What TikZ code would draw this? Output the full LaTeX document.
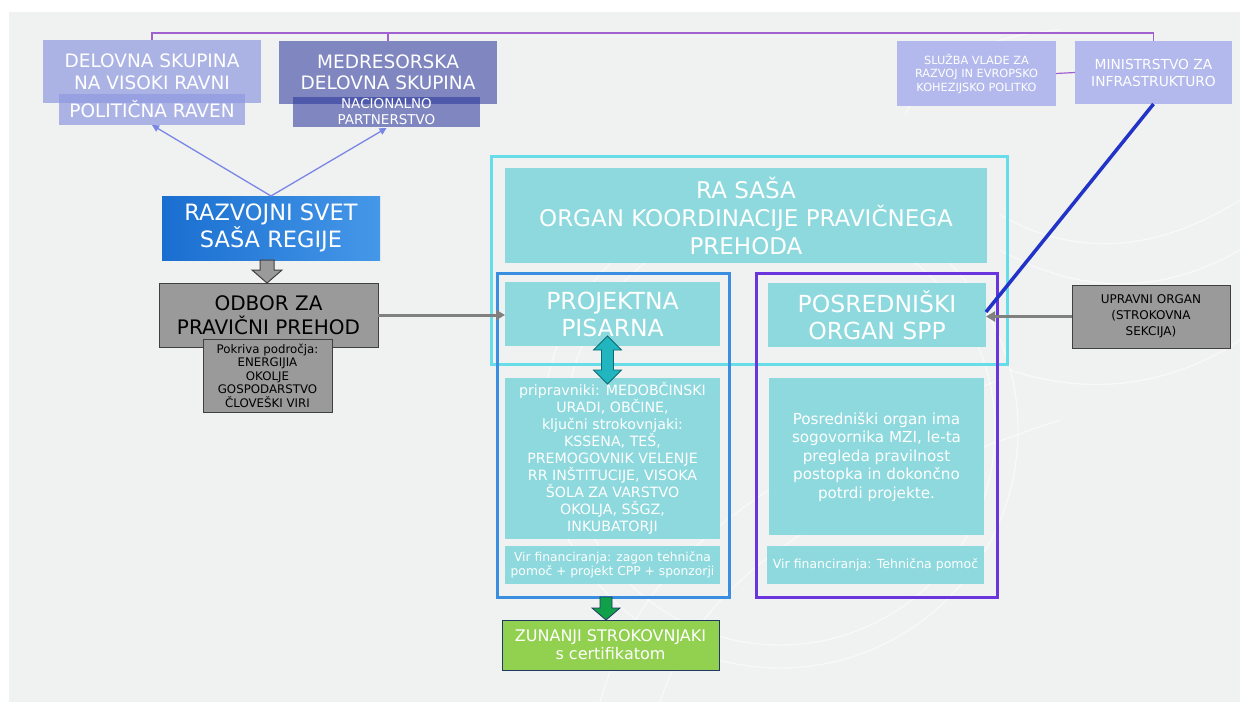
\documentclass[tikz,border=0pt]{standalone}
\usepackage{fontspec}
\setmainfont{DejaVu Sans}
\usetikzlibrary{calc,arrows.meta}
\definecolor{panelbg}{HTML}{F0F1F1}
\definecolor{peri}{HTML}{8F99E0}
\definecolor{medblue}{HTML}{2E3A9E}
\definecolor{lightperi}{HTML}{B3B9EC}
\definecolor{tealfill}{HTML}{8DD9DD}
\definecolor{cyanline}{HTML}{66DDE8}
\definecolor{blueline}{HTML}{3A8EE0}
\definecolor{purpline}{HTML}{6A35DC}
\definecolor{diagblue}{HTML}{2233C8}
\definecolor{grayfill}{HTML}{9A9A9A}
\definecolor{grayline}{HTML}{404040}
\definecolor{grayarrow}{HTML}{808080}
\definecolor{topconn}{HTML}{A060D0}
\definecolor{arrowperi}{HTML}{7A86E6}
\definecolor{zunfill}{HTML}{92D050}
\definecolor{navy}{HTML}{1F3864}
\definecolor{greenarr}{HTML}{10A04A}
\definecolor{tealarr}{HTML}{21B6BF}
\definecolor{tealdark}{HTML}{0E6A70}
\definecolor{razleft}{HTML}{1A6ED0}
\definecolor{razright}{HTML}{4598E8}
\newcommand\myfs[2]{\fontsize{#1}{#2}\selectfont}
\tikzset{
  box/.style={anchor=north west, inner sep=0pt, outer sep=0pt, align=center, text=white},
  frame/.style={anchor=north west, inner sep=0pt, outer sep=0pt, draw, line width=3pt},
  graybox/.style={box, fill=grayfill, draw=grayline, line width=1pt, text=black},
  conn/.style={draw=topconn, line width=1.2pt},
  periarrow/.style={draw=arrowperi, line width=1.3pt, -{Triangle[length=7pt,width=7pt]}},
  grayconn/.style={draw=grayarrow, line width=3pt, -{Triangle[length=9pt,width=10pt]}},
  bgcurve/.style={draw=white, line width=1.3pt, opacity=0.55},
}
\begin{document}
\begin{tikzpicture}[x=1pt,y=-1pt]
\useasboundingbox (0,0) rectangle (1246,706);
\fill[white] (0,0) rectangle (1246,706);
\fill[panelbg] (9,12) rectangle (1240,702);
% decorative background curves
\draw[bgcurve] (780,430) circle (215);
\draw[bgcurve] (780,430) circle (238);
\draw[bgcurve] (600,702) .. controls (640,560) and (760,470) .. (1000,380);
\draw[bgcurve] (660,702) .. controls (700,580) and (820,500) .. (1060,420);
\draw[bgcurve] (1000,215) .. controls (1080,260) and (1160,250) .. (1240,200);
\draw[bgcurve] (1000,250) .. controls (1090,300) and (1170,290) .. (1240,250);
\draw[bgcurve] (1010,370) .. controls (1100,400) and (1180,380) .. (1240,340);
\draw[bgcurve] (905,115) .. controls (930,60) and (990,35) .. (1060,30);

% top left boxes
\node[box, fill=peri, fill opacity=0.7, text opacity=1, minimum width=218pt, minimum height=63pt, font=\myfs{18.5}{22}] (del) at (43,40) {DELOVNA SKUPINA\\NA VISOKI RAVNI};
\node[box, fill=peri, fill opacity=0.7, text opacity=1, minimum width=186pt, minimum height=31pt, font=\myfs{18.5}{22}] (pol) at (59,94) {POLITIČNA RAVEN};
\node[box, fill=medblue, fill opacity=0.58, text opacity=1, minimum width=218pt, minimum height=63pt, font=\myfs{18.5}{21}] (med) at (279,41) {MEDRESORSKA\\DELOVNA SKUPINA};
\node[box, fill=medblue, fill opacity=0.58, text opacity=1, minimum width=187pt, minimum height=30pt, font=\myfs{13.5}{16}] (nac) at (293,97) {NACIONALNO\\PARTNERSTVO};
% top right boxes
\node[box, fill=lightperi, minimum width=159pt, minimum height=65pt, font=\myfs{11.3}{13.5}] (slu) at (897,41) {SLUŽBA VLADE ZA\\RAZVOJ IN EVROPSKO\\KOHEZIJSKO POLITKO};
\node[box, fill=lightperi, minimum width=157pt, minimum height=63pt, font=\myfs{13.8}{17}] (min) at (1075,41) {MINISTRSTVO ZA\\INFRASTRUKTURO};
% top connectors
\draw[conn] (del.north) -- ++(0,-7) -| (min.north);
\draw[conn] (med.north) -- ++(0,-8);
\draw[conn] (slu.east) -- (min.west);

% left column
\node[box, left color=razleft, right color=razright, minimum width=218pt, minimum height=64pt, font=\myfs{22.5}{27}] (raz) at (162,196) {RAZVOJNI SVET\\SAŠA REGIJE};
\draw[periarrow] (raz.north) -- (pol.south);
\draw[periarrow] (raz.north) -- ($(nac.south)+(0,1)$);
\node[graybox, minimum width=219pt, minimum height=64pt, font=\myfs{20}{24}] (odb) at (159,283) {ODBOR ZA\\PRAVIČNI PREHOD};
\node[graybox, minimum width=129pt, minimum height=73pt, font=\myfs{11.8}{13.5}] (pok) at (203,339) {Pokriva področja:\\ENERGIJIA\\OKOLJE\\GOSPODARSTVO\\ČLOVEŠKI VIRI};
\draw[fill=grayfill, draw=grayline, line width=1pt] ($(raz.south)+(-11,0)$) -- ++(14,0) -- ++(0,10) -- ++(8,0) -- ++(-15,13) -- ++(-15,-13) -- ++(8,0) -- cycle;

% central group
\node[frame, draw=cyanline, minimum width=516pt, minimum height=208pt] (outer) at (491,156) {};
\node[box, fill=tealfill, minimum width=482pt, minimum height=95pt, font=\myfs{23}{28}] (ra) at (505,168) {RA SAŠA\\ORGAN KOORDINACIJE PRAVIČNEGA\\PREHODA};
\node[frame, draw=blueline, minimum width=232pt, minimum height=324pt] (pbox) at (497,273) {};
\node[frame, draw=purpline, minimum width=241pt, minimum height=324pt] (sbox) at (756,273) {};
\node[box, fill=tealfill, minimum width=215pt, minimum height=64pt, font=\myfs{23.5}{27}] (proj) at (505,282) {PROJEKTNA\\PISARNA};
\node[box, fill=tealfill, minimum width=215pt, minimum height=161pt, font=\myfs{14.2}{17}] (pri) at (505,378) {pripravniki: MEDOBČINSKI\\URADI, OBČINE,\\ključni strokovnjaki:\\KSSENA, TEŠ,\\PREMOGOVNIK VELENJE\\RR INŠTITUCIJE, VISOKA\\ŠOLA ZA VARSTVO\\OKOLJA, SŠGZ,\\INKUBATORJI};
\node[box, fill=tealfill, minimum width=215pt, minimum height=38pt, font=\myfs{12.3}{14.5}] (vir1) at (505,546) {Vir financiranja: zagon tehnična\\pomoč + projekt CPP + sponzorji};
\node[box, fill=tealfill, minimum width=218pt, minimum height=64pt, font=\myfs{23.5}{27}] (pos) at (768,283) {POSREDNIŠKI\\ORGAN SPP};
\node[box, fill=tealfill, minimum width=215pt, minimum height=157pt, font=\myfs{15.2}{18.5}] (post) at (769,378) {Posredniški organ ima\\sogovornika MZI, le-ta\\pregleda pravilnost\\postopka in dokončno\\potrdi projekte.};
\node[box, fill=tealfill, minimum width=217pt, minimum height=38pt, font=\myfs{12.5}{14.5}] (vir2) at (767,546) {Vir financiranja: Tehnična pomoč};
% double arrow between proj and pri
\draw[fill=tealarr, draw=tealdark, line width=0.8pt] ($(proj.south)+(-5,-10)$) -- ++(14,14) -- ++(-8,0) -- ++(0,20) -- ++(8,0) -- ++(-14,14) -- ++(-14,-14) -- ++(8,0) -- ++(0,-20) -- ++(-8,0) -- cycle;

% right
\node[graybox, minimum width=158pt, minimum height=63pt, font=\myfs{12}{16}] (upr) at (1072,285) {UPRAVNI ORGAN\\(STROKOVNA\\SEKCIJA)};
\draw[draw=diagblue, line width=3.5pt] (min.south) -- ($(pos.east)+(0,-3)$);
\draw[grayconn] (upr.west) -- (pos.east |- upr.west);
\draw[grayconn] (odb.east) -- (proj.west |- odb.east);

% bottom
\node[box, fill=zunfill, draw=navy, line width=1pt, minimum width=217pt, minimum height=50pt, font=\myfs{16}{18}] (zun) at (502,620) {ZUNANJI STROKOVNJAKI\\s certifikatom};
\draw[fill=greenarr, draw=navy, line width=0.8pt] ($(pbox.south)+(-13,0)$) -- ++(12,0) -- ++(0,11) -- ++(8,0) -- ++(-14,12) -- ++(-14,-12) -- ++(8,0) -- cycle;
\end{tikzpicture}
\end{document}
